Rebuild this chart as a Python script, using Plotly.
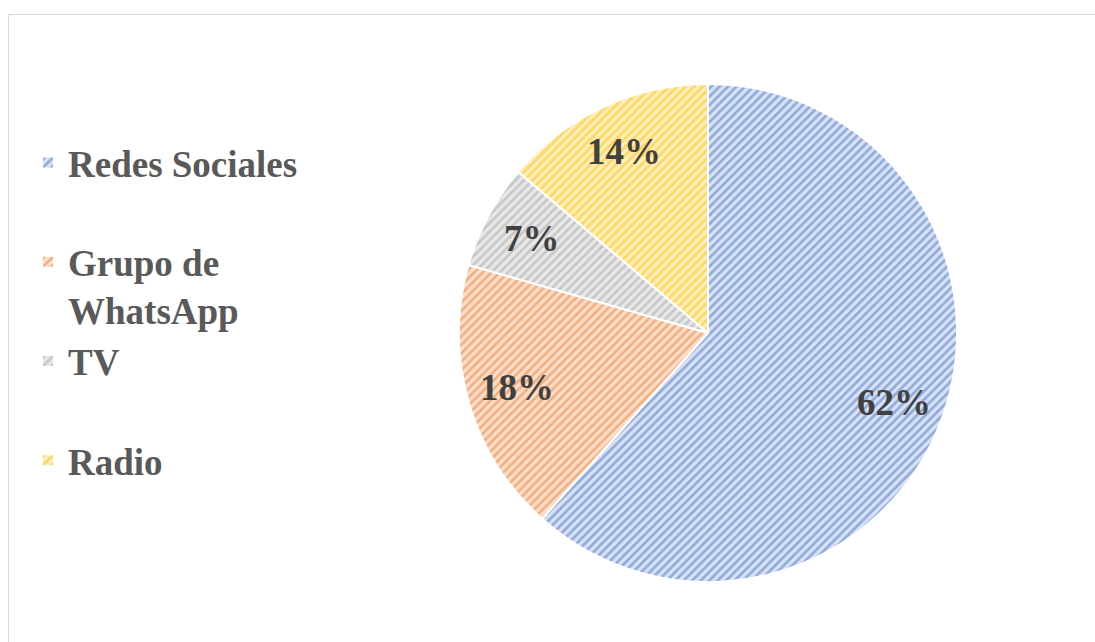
import math
import plotly.graph_objects as go

# ---- data ----
categories = ["Redes Sociales", "Grupo de WhatsApp", "TV", "Radio"]
legend_labels = ["Redes Sociales<br>\u00a0", "Grupo de<br>WhatsApp", "TV<br>\u00a0", "Radio"]
values = [61.6, 17.8, 6.8, 13.8]

# ---- style ----
fg_colors = ["#4472C4", "#ED7D31", "#A5A5A5", "#FFC000"]
bg_colors = ["#D9E2F4", "#FBDFCC", "#E8E8E8", "#FFEFBE"]

W, H = 1095, 642
cx_px, cy_px, R_px = 708, 333, 249
dom_x = [(cx_px - R_px) / W, (cx_px + R_px) / W]
dom_y = [1 - (cy_px + R_px) / H, 1 - (cy_px - R_px) / H]

total = sum(values)
pct_text = [f"{round(v / total * 100)}%" for v in values]

fig = go.Figure()
fig.add_trace(go.Pie(
    labels=legend_labels,
    values=values,
    sort=False,
    direction="clockwise",
    rotation=0,
    textinfo="none",
    hoverinfo="label+percent",
    domain=dict(x=dom_x, y=dom_y),
    marker=dict(
        colors=bg_colors,
        line=dict(color="white", width=2),
        pattern=dict(shape="/", fgcolor=fg_colors, bgcolor=bg_colors,
                     size=6, solidity=0.45, fillmode="overlay"),
    ),
))

# percent labels placed at ~0.8 R along each slice's bisector
cum = 0
for v, t in zip(values, pct_text):
    mid = (cum + v / 2) / total * 2 * math.pi
    cum += v
    px = cx_px + 0.8 * R_px * math.sin(mid)
    py = cy_px - 0.8 * R_px * math.cos(mid)
    fig.add_annotation(
        x=px / W, y=1 - py / H, xref="paper", yref="paper",
        xanchor="center", yanchor="middle", yshift=1,
        text=f"<b>{t}</b>", showarrow=False,
        font=dict(family="Liberation Serif", size=37, color="#404040"),
    )

# chart border
fig.add_shape(type="rect", xref="paper", yref="paper",
              x0=8.5 / W, x1=1.01, y0=-0.01, y1=1 - 14.5 / H,
              line=dict(color="#D9D9D9", width=1), fillcolor="rgba(0,0,0,0)",
              layer="below")

fig.update_layout(
    width=W, height=H,
    margin=dict(l=0, r=0, t=0, b=0),
    paper_bgcolor="white",
    plot_bgcolor="white",
    showlegend=True,
    legend=dict(
        x=28 / W, xanchor="left",
        y=1 - 132 / H, yanchor="top",
        valign="top",
        font=dict(family="Liberation Serif", size=37, color="#595959", weight="bold"),
        bgcolor="rgba(0,0,0,0)",
        itemclick=False, itemdoubleclick=False,
        traceorder="normal",
    ),
)

fig.write_html("out.html", config={"displayModeBar": False},
               post_script="document.body.style.margin='0';")
